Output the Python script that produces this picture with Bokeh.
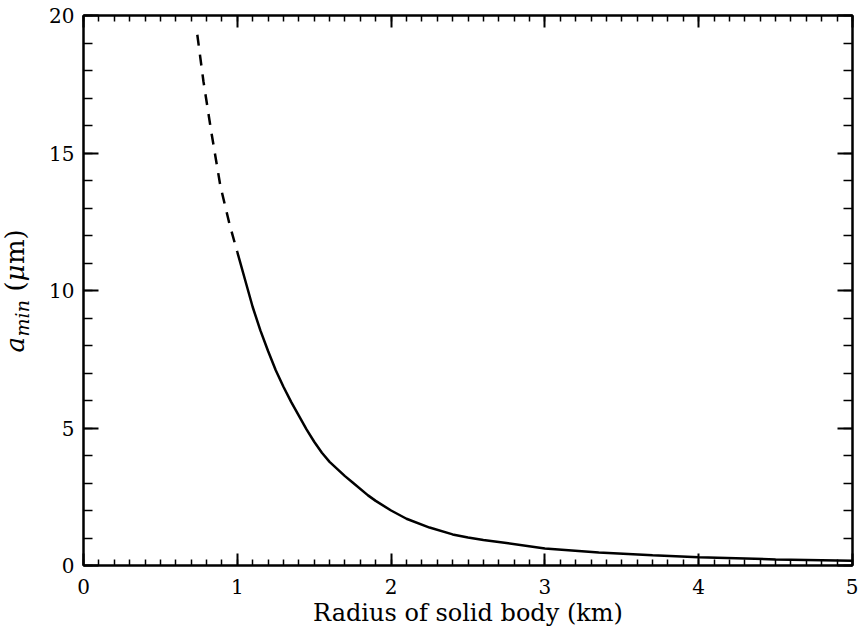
import math
from bokeh.plotting import figure
from bokeh.layouts import row
from bokeh.models import Range1d, FixedTicker, LinearAxis, CustomLabelingPolicy
from bokeh.core.properties import value
from bokeh.embed import file_html
from bokeh.resources import INLINE

# Data
dash_x = [0.74, 0.78, 0.83, 0.89, 0.95, 1.0]
dash_y = [19.3, 17.6, 15.8, 13.8, 12.4, 11.4]
solid_x = [1.0, 1.05, 1.1, 1.15, 1.2, 1.25, 1.3, 1.35, 1.4, 1.45, 1.5, 1.55, 1.6,
           1.7, 1.75, 1.85, 1.9, 2.0, 2.1, 2.25, 2.4, 2.5, 2.6, 2.75, 3.0, 3.35,
           3.7, 4.0, 4.5, 5.0]
solid_y = [11.4, 10.4, 9.4, 8.55, 7.8, 7.1, 6.5, 5.95, 5.45, 4.95, 4.5, 4.1, 3.77,
           3.25, 3.02, 2.55, 2.35, 2.0, 1.7, 1.38, 1.13, 1.02, 0.93, 0.82, 0.62, 0.47,
           0.37, 0.30, 0.22, 0.17]
x_major = [0, 1, 2, 3, 4, 5]
x_minor = [i / 10 for i in range(0, 51)]
y_major = [0, 5, 10, 15, 20]
y_minor = list(range(0, 21))
x_label = "Radius of solid body (km)"
y_label_parts = ["a", "min", "(", "μ", "m)"]

FONT = "DejaVu Serif"
H = 636
LW = 44  # width of the strip holding the y-axis label
TOP, BOT = 15, 71

# --- strip with the composed y-axis label (same vertical frame as the plot) ---
lab = figure(width=LW, height=H, output_backend="svg", toolbar_location=None,
             x_range=Range1d(0, LW), y_range=Range1d(0, 20),
             min_border_left=0, min_border_right=0, min_border_top=TOP,
             min_border_bottom=BOT, x_axis_location=None, y_axis_location=None)
lab.grid.visible = False
lab.outline_line_color = None
lab.background_fill_color = "white"
lab.border_fill_color = "white"
rot = math.pi / 2


def piece(txt, x, y, size, style):
    lab.text(x=[x], y=[y], text=[txt], angle=rot,
             text_font=value(FONT), text_font_style=style, text_color="black",
             text_font_size=size, text_baseline="alphabetic", text_align="left")


BX = 14
piece(y_label_parts[0], BX, 7.75, "26px", "italic")
piece(y_label_parts[1], BX + 7, 8.33, "19px", "italic")
piece(y_label_parts[2], BX, 9.96, "26px", "normal")
piece(y_label_parts[3], BX, 10.33, "26px", "italic")
piece(y_label_parts[4], BX, 10.96, "26px", "normal")

# --- main plot ---
p = figure(width=858 - LW, height=H, output_backend="svg", toolbar_location=None,
           x_range=Range1d(0, 5), y_range=Range1d(0, 20),
           min_border_left=83 - LW, min_border_right=6, min_border_top=TOP,
           min_border_bottom=BOT, x_axis_location=None, y_axis_location=None)
p.grid.visible = False
p.outline_line_color = "black"
p.outline_line_width = 2
p.background_fill_color = "white"
p.border_fill_color = "white"

xt = FixedTicker(ticks=x_major, minor_ticks=x_minor)
yt = FixedTicker(ticks=y_major, minor_ticks=y_minor)

no_labels = CustomLabelingPolicy(code="for (const i of indices) indices.unset(i); return indices")


def style(ax, vertical, labels):
    ax.axis_line_width = 2
    ax.axis_line_color = "black"
    ax.major_tick_line_width = 2
    ax.minor_tick_line_width = 1.5
    ax.major_tick_out = 0
    ax.minor_tick_out = 0
    if vertical:
        ax.major_tick_in = 15
        ax.minor_tick_in = 9
    else:
        ax.major_tick_in = 12
        ax.minor_tick_in = 6
    if labels:
        ax.major_label_text_font = FONT
        ax.major_label_text_font_size = "20px"
        ax.major_label_text_color = "black"
    else:
        ax.major_label_policy = no_labels
        ax.major_label_text_font_size = "0px"
        ax.major_label_standoff = 0


bottom = LinearAxis(ticker=xt, axis_label=x_label)
style(bottom, False, True)
bottom.major_label_standoff = 13
bottom.axis_label_text_font = FONT
bottom.axis_label_text_font_size = "24px"
bottom.axis_label_text_font_style = "normal"
bottom.axis_label_text_color = "black"
bottom.axis_label_standoff = 2
p.add_layout(bottom, "below")

left = LinearAxis(ticker=yt)
style(left, True, True)
left.major_label_standoff = 9
p.add_layout(left, "left")

top = LinearAxis(ticker=xt)
style(top, False, False)
p.add_layout(top, "above")

right = LinearAxis(ticker=yt)
style(right, True, False)
p.add_layout(right, "right")

p.line(dash_x, dash_y, line_color="black", line_width=2.5, line_dash="11 9")
p.line(solid_x, solid_y, line_color="black", line_width=2.5)

layout = row(lab, p, spacing=0)
open("out.html", "w").write(file_html(layout, INLINE))
